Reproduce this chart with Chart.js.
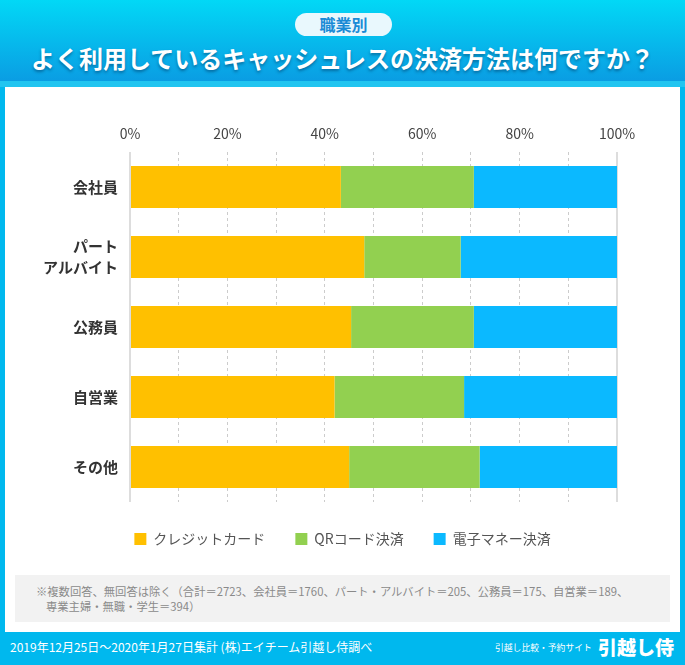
<!DOCTYPE html>
<html lang="ja">
<head>
<meta charset="utf-8">
<script src="https://cdn.jsdelivr.net/npm/chart.js@4"></script>
<style>
    html, body { margin: 0; padding: 0; }
    body {
        width: 685px; height: 665px; position: relative; overflow: hidden;
        background: #00b8ee;
        font-family: "Noto Sans CJK JP", "Noto Sans", sans-serif;
    }
    #header {
        position: absolute; left: 0; top: 0; width: 685px; height: 81px;
        background: linear-gradient(#02d8f6, #0a9de3);
    }
    #band { position: absolute; left: 0; top: 81px; width: 685px; height: 6px; background: #22c5f0; }
    #pill {
        position: absolute; left: 295px; top: 13px; width: 97px; height: 23px;
        border-radius: 12px; background: #e9f8fd; color: #1a8bd6;
        font-weight: bold; font-size: 16px; line-height: 23px; text-align: center;
    }
    #title {
        position: absolute; left: 0; top: 43px; width: 685px; text-align: center;
        color: #fff; font-weight: bold; font-size: 24px; line-height: 30px;
        text-shadow: 0 2px 3px rgba(0, 40, 80, 0.45);
    }
    #panel { position: absolute; left: 5px; top: 87px; width: 675px; height: 545px; background: #fff; }
    #chartBox { position: absolute; left: 5px; top: 87px; width: 675px; height: 469px; }
    #note {
        position: absolute; left: 15px; top: 575px; width: 655px; height: 47px;
        background: #f2f2f2; color: #8a8a8a; font-size: 11.3px; line-height: 14.5px;
        box-sizing: border-box; padding: 9px 0 0 21px;
    }
    #note .l2 { padding-left: 10px; }
    #footer {
        position: absolute; left: 0; top: 632px; width: 685px; height: 33px; background: #00b8ee;
        color: #fff;
    }
    #footer .left { position: absolute; left: 10px; top: 7px; font-size: 12px; line-height: 16px; }
    #footer .small { position: absolute; left: 495px; top: 10px; font-size: 8.8px; line-height: 12px; }
    #footer .brand { position: absolute; left: 598px; top: 2px; font-size: 19px; font-weight: 900; line-height: 26px; }
</style>
</head>
<body>
<div id="header"></div>
<div id="band"></div>
<div id="pill">職業別</div>
<div id="title">よく利用しているキャッシュレスの決済方法は何ですか？</div>
<div id="panel"></div>
<div id="chartBox"><canvas id="chart" width="675" height="469"></canvas></div>
<div id="note">
    <div>※複数回答、無回答は除く（合計＝2723、会社員＝1760、パート・アルバイト＝205、公務員＝175、自営業＝189、</div>
    <div class="l2">専業主婦・無職・学生＝394）</div>
</div>
<div id="footer">
    <span class="left">2019年12月25日～2020年1月27日集計 (株)エイチーム引越し侍調べ</span>
    <span class="small">引越し比較・予約サイト</span>
    <span class="brand">引越し侍</span>
</div>
<script>
    // categories (occupation)
    const categories = ['会社員', ['パート', 'アルバイト'], '公務員', '自営業', 'その他'];

    // share of each payment method, percent
    const creditCard = [43.3, 48.1, 45.4, 42.0, 45.0];
    const qrCode = [27.3, 19.8, 25.2, 26.6, 26.8];
    const eMoney = [29.4, 32.1, 29.4, 31.4, 28.2];

    const seriesNames = ['クレジットカード', 'QRコード決済', '電子マネー決済'];
    const seriesColors = ['#ffc000', '#92d050', '#0bb9ff'];

    const ctx = document.getElementById('chart').getContext('2d');
    const fontFamily = '"Noto Sans CJK JP", "Noto Sans", sans-serif';

    const isEdge = (c) => c.tick && (c.tick.value === 0 || c.tick.value === 100);

    // stretch the legend box over the full canvas so it is centred on the page,
    // not just under the (right-padded) chart area
    const centerLegend = {
        id: 'centerLegend',
        afterLayout(chart) {
            chart.legend.left = 0;
            chart.legend.right = chart.width;
            chart.legend.width = chart.width;
        }
    };

    new Chart(ctx, {
        type: 'bar',
        data: {
            labels: categories,
            datasets: [creditCard, qrCode, eMoney].map((values, i) => ({
                label: seriesNames[i],
                data: values,
                backgroundColor: seriesColors[i],
                borderWidth: 0,
                categoryPercentage: 0.6,
                barPercentage: 1
            }))
        },
        plugins: [centerLegend],
        options: {
            indexAxis: 'y',
            responsive: false,
            animation: false,
            layout: { padding: { left: 0, right: 63, top: 0, bottom: 0 } },
            plugins: {
                tooltip: { enabled: false },
                legend: {
                    position: 'bottom',
                    labels: {
                        boxWidth: 12,
                        boxHeight: 12,
                        padding: 30,
                        color: '#555',
                        font: { family: fontFamily, size: 14 }
                    }
                }
            },
            scales: {
                x: {
                    position: 'top',
                    stacked: true,
                    min: 0,
                    max: 100,
                    afterFit: (scale) => { scale.height = 65; },
                    ticks: {
                        stepSize: 10,
                        autoSkip: false,
                        maxRotation: 0,
                        padding: 10,
                        color: '#444',
                        font: { family: fontFamily, size: 14 },
                        callback: (v) => (v % 20 === 0 ? v + '%' : '')
                    },
                    grid: {
                        drawTicks: false,
                        color: (c) => (isEdge(c) ? '#dddddd' : '#cccccc'),
                        lineWidth: (c) => (isEdge(c) ? 2 : 1)
                    },
                    border: {
                        display: false,
                        dash: (c) => (isEdge(c) ? [] : [3, 3])
                    }
                },
                y: {
                    stacked: true,
                    afterFit: (scale) => { scale.width = 125; },
                    ticks: {
                        padding: 12,
                        color: '#333',
                        font: { family: fontFamily, size: 15, weight: 'bold', lineHeight: 1.4 }
                    },
                    grid: { display: false, drawTicks: false },
                    border: { display: false }
                }
            }
        }
    });
</script>
</body>
</html>
